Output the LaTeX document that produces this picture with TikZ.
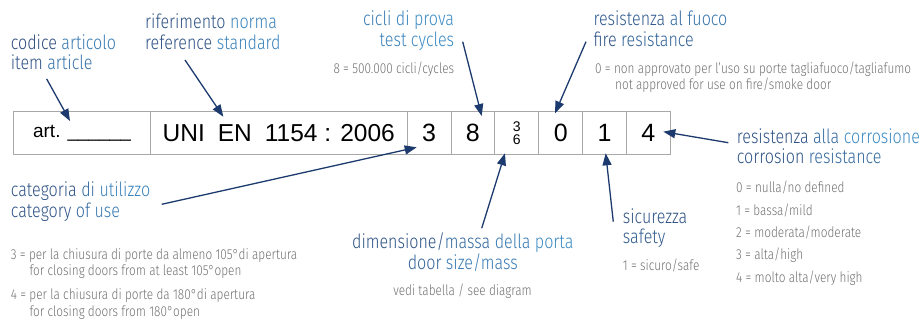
\documentclass[tikz,border=0pt]{standalone}
\usepackage{fontspec}
\setmainfont{Fira Sans Light}[FakeStretch=0.82]
\newfontfamily\tabfont{Liberation Sans}
\usetikzlibrary{arrows.meta}
\definecolor{gd}{HTML}{2C4A7C}
\definecolor{gl}{HTML}{3E9AD6}
\definecolor{gy}{HTML}{707070}
\definecolor{arr}{HTML}{1D3A6E}
\definecolor{bd}{HTML}{A8A8A8}
\newcommand\gw[2]{\textcolor{gl!#1!gd}{#2}}
\begin{document}
\begin{tikzpicture}[x=1pt,y=-1pt,
  lab/.style={font=\fontsize{19.6}{21}\selectfont, anchor=base west, inner sep=0pt},
  labr/.style={lab, anchor=base east},
  labc/.style={lab, anchor=base},
  note/.style={font=\fontsize{14.4}{16}\selectfont, text=gy, anchor=base west, inner sep=0pt},
  cell/.style={draw=bd, line width=0.8pt, minimum height=42.6pt, inner sep=0pt, anchor=west, font=\tabfont\fontsize{25}{25}\selectfont},
  arrow/.style={draw=arr, line width=1.3pt, -{Triangle[length=12pt,width=9pt]}}]
\useasboundingbox (0,0) rectangle (922,323);
% table
\node[cell, minimum width=136.7pt, font=\tabfont\fontsize{19}{19}\selectfont] (c1) at (13.3,133) {art. \_\_\_\_\_\_};
\node[cell, minimum width=256.7pt, font=\tabfont\fontsize{24.5}{24.5}\selectfont] (c2) at (150,133) {UNI\hspace{13pt}EN\hspace{13pt}1154 : 2006};
\node[cell, minimum width=43.8pt] (c3) at (406.7,133) {3};
\node[cell, minimum width=43.8pt] (c4) at (450.5,133) {8};
\node[cell, minimum width=44pt, align=center, font=\tabfont\fontsize{14}{13.5}\selectfont] (c5) at (494.3,133) {3\\6};
\node[cell, minimum width=44pt] (c6) at (538.3,133) {0};
\node[cell, minimum width=43.7pt] (c7) at (582.3,133) {1};
\node[cell, minimum width=44pt] (c8) at (626,133) {4};
% labels
\node[lab] (codA) at (10.7,50) {\gw{0}{codice} \gw{60}{articolo}};
\node[lab] (codB) at (10.7,70) {\gw{10}{item} \gw{50}{article}};
\node[lab] (rifA) at (145,28.3) {\gw{10}{riferimento} \gw{70}{norma}};
\node[lab] (rifB) at (145,50) {\gw{10}{reference} \gw{70}{standard}};
\node[labr] (cicA) at (454.3,26) {\gw{60}{cicli} \gw{70}{di} \gw{80}{prova}};
\node[labr] (cicB) at (454.3,46.5) {\gw{70}{test} \gw{80}{cycles}};
\node[note, anchor=base east] (cicN) at (454.3,74) {8 = 500.000 cicli/cycles};
\node[lab] (fuoA) at (593.3,26) {\gw{20}{resistenza} \gw{40}{al} \gw{50}{fuoco}};
\node[lab] (fuoB) at (593.3,46.7) {\gw{10}{fire} \gw{30}{resistance}};
\node[note] (fuoN1) at (595,73.3) {0 = non approvato per l’uso su porte tagliafuoco/tagliafumo};
\node[note] (fuoN2) at (615,90) {not approved for use on fire/smoke door};
\node[lab] (corA) at (736.7,143.3) {\gw{10}{resistenza} \gw{40}{alla} \gw{80}{corrosione}};
\node[lab] (corB) at (736.7,163.3) {\gw{10}{corrosion} \gw{40}{resistance}};
\node[note] (corN0) at (736,192.7) {0 = nulla/no defined};
\node[note] (corN1) at (736,216) {1 = bassa/mild};
\node[note] (corN2) at (736,238) {2 = moderata/moderate};
\node[note] (corN3) at (736,260) {3 = alta/high};
\node[note] (corN4) at (736,282.7) {4 = molto alta/very high};
\node[lab] (catA) at (10.7,196.7) {\gw{10}{categoria} \gw{40}{di} \gw{70}{utilizzo}};
\node[lab] (catB) at (10.7,217.3) {\gw{10}{category} \gw{40}{of} \gw{60}{use}};
\node[note] (catN1) at (10.7,260) {3 = per la chiusura di porte da almeno 105°di apertura};
\node[note] (catN2) at (29.3,275.7) {for closing doors from at least 105°open};
\node[note] (catN3) at (10.7,299.3) {4 = per la chiusura di porte da 180°di apertura};
\node[note] (catN4) at (29.3,316.7) {for closing doors from 180°open};
\node[labc] (dimA) at (462.8,248.3) {\gw{10}{dimensione/}\gw{40}{massa} \gw{60}{della} \gw{80}{porta}};
\node[labc] (dimB) at (462.8,270) {\gw{30}{door} \gw{60}{size/mass}};
\node[note, anchor=base] (dimN) at (462.5,296) {vedi tabella / see diagram};
\node[lab] (sicA) at (622.7,223.3) {\gw{10}{sicurezza}};
\node[lab] (sicB) at (622.7,244) {\gw{20}{safety}};
\node[note] (sicN) at (622.7,270.7) {1 = sicuro/safe};
% arrows
\coordinate (a1s) at (46.7,79);   \coordinate (a1e) at (70,121);
\coordinate (a2s) at (185,60);    \coordinate (a2e) at (223.3,116.7);
\coordinate (a3s) at (462.7,41.7);\coordinate (a3e) at (481.7,116);
\coordinate (a4s) at (586,41.7);  \coordinate (a4e) at (555,113.3);
\coordinate (a5s) at (728.3,142.7);\coordinate (a5e) at (663.3,131.7);
\coordinate (a6s) at (161.7,204.3);\coordinate (a6e) at (416.7,147.3);
\coordinate (a7s) at (481.7,228.3);\coordinate (a7e) at (505,153.3);
\coordinate (a8s) at (613.3,221.7);\coordinate (a8e) at (605.7,153.3);
\foreach \i in {1,...,8} \draw[arrow] (a\i s) -- (a\i e);
\end{tikzpicture}
\end{document}
